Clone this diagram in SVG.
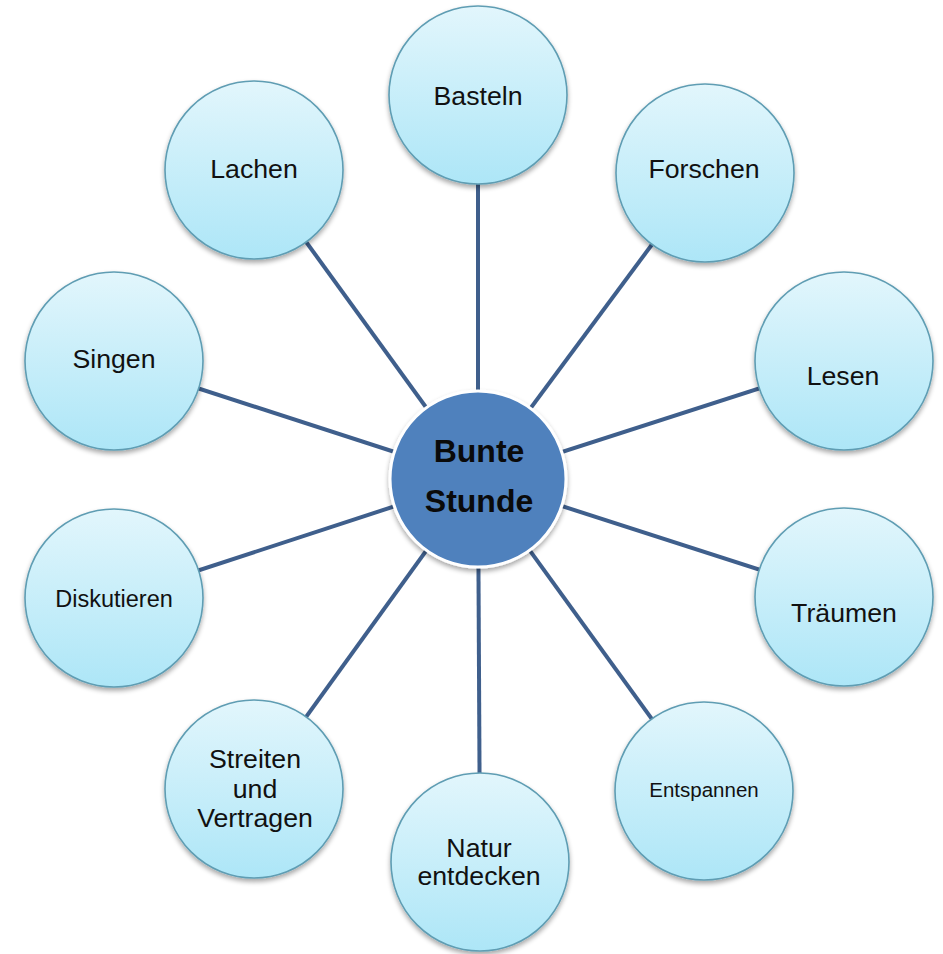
<svg xmlns="http://www.w3.org/2000/svg" width="943" height="954" viewBox="0 0 943 954">
  <defs>
    <linearGradient id="bubble" x1="0" y1="0" x2="0" y2="1">
      <stop offset="0" stop-color="#e2f6fc"/>
      <stop offset="1" stop-color="#ade6f7"/>
    </linearGradient>
    <filter id="shadow" x="-20%" y="-20%" width="140%" height="150%">
      <feGaussianBlur in="SourceAlpha" stdDeviation="2.5"/>
      <feOffset dx="0" dy="3" result="b"/>
      <feComponentTransfer><feFuncA type="linear" slope="0.35"/></feComponentTransfer>
      <feMerge><feMergeNode/><feMergeNode in="SourceGraphic"/></feMerge>
    </filter>
  </defs>
  <style>
    .leaf { fill: url(#bubble); stroke: #5f9db3; stroke-width: 1.6; filter: url(#shadow); }
    .hub { fill: #4f81bd; stroke: #ffffff; stroke-width: 3; filter: url(#shadow); }
    .lbl { font-family: "Liberation Sans", Arial, sans-serif; font-size: 26.7px; fill: #111111; text-anchor: middle; }
    .hubt { font-family: "Liberation Sans", Arial, sans-serif; font-size: 32px; font-weight: bold; fill: #0a0a0a; text-anchor: middle; }
    .conn line { stroke: #3f5f8c; stroke-width: 4; }
  </style>
  <rect width="943" height="954" fill="#ffffff"/>
  <g id="connectors" class="conn">
    <line x1="478" y1="479" x2="478" y2="95"/>
    <line x1="478" y1="479" x2="705" y2="173"/>
    <line x1="478" y1="479" x2="844" y2="361"/>
    <line x1="478" y1="479" x2="844" y2="597"/>
    <line x1="478" y1="479" x2="704" y2="791"/>
    <line x1="478" y1="479" x2="480" y2="862"/>
    <line x1="478" y1="479" x2="254" y2="789"/>
    <line x1="478" y1="479" x2="114" y2="598"/>
    <line x1="478" y1="479" x2="114" y2="361"/>
    <line x1="478" y1="479" x2="254" y2="170"/>
  </g>
  <g id="basteln"><circle class="leaf" cx="478" cy="95" r="89"/><text class="lbl" x="478" y="105">Basteln</text></g>
  <g id="forschen"><circle class="leaf" cx="705" cy="173" r="89"/><text class="lbl" x="704" y="178">Forschen</text></g>
  <g id="lesen"><circle class="leaf" cx="844" cy="361" r="89"/><text class="lbl" x="843" y="385">Lesen</text></g>
  <g id="traeumen"><circle class="leaf" cx="844" cy="597" r="89"/><text class="lbl" x="844" y="622">Träumen</text></g>
  <g id="entspannen"><circle class="leaf" cx="704" cy="791" r="89"/><text class="lbl" x="704" y="797" style="font-size:20.5px">Entspannen</text></g>
  <g id="natur"><circle class="leaf" cx="480" cy="862" r="89"/><text class="lbl" x="479" y="857">Natur</text><text class="lbl" x="479" y="885">entdecken</text></g>
  <g id="streiten"><circle class="leaf" cx="254" cy="789" r="89"/><text class="lbl" x="255" y="768">Streiten</text><text class="lbl" x="255" y="798">und</text><text class="lbl" x="255" y="827">Vertragen</text></g>
  <g id="diskutieren"><circle class="leaf" cx="114" cy="598" r="89"/><text class="lbl" x="114" y="607" style="font-size:23.5px">Diskutieren</text></g>
  <g id="singen"><circle class="leaf" cx="114" cy="361" r="89"/><text class="lbl" x="114" y="368">Singen</text></g>
  <g id="lachen"><circle class="leaf" cx="254" cy="170" r="89"/><text class="lbl" x="254" y="178">Lachen</text></g>
  <g id="bunte-stunde"><circle class="hub" cx="478" cy="479" r="88"/><text class="hubt" x="479" y="462">Bunte</text><text class="hubt" x="479" y="512">Stunde</text></g>
</svg>
